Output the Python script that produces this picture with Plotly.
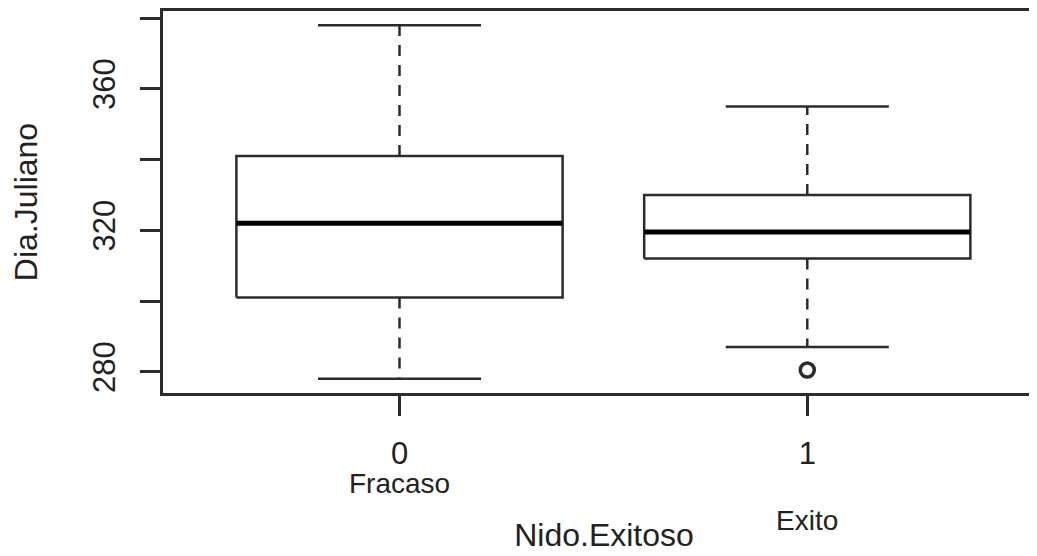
import plotly.graph_objects as go

# ---- data ----
groups = ["0", "1"]
group_labels = ["Fracaso", "Exito"]
positions = [1, 2]
lower_whisker = [278, 287]
q1 = [301, 312]
median = [322, 319.5]
q3 = [341, 330]
upper_whisker = [378, 355]
outlier_group = [2]
outlier_value = [280.5]
y_tickvals = [280, 300, 320, 340, 360, 380]
y_ticktext = ["280", "", "320", "", "360", ""]

# ---- style ----
BOX_HALF = 0.4
CAP_HALF = 0.2
INK = "#2b2b2b"
FONT = "Liberation Sans, Arial, sans-serif"
label_yshift = [-90, -127]

box_x, box_y = [], []
med_x, med_y = [], []
wh_x, wh_y = [], []
cap_x, cap_y = [], []
for p, a, b, m, c, d in zip(positions, lower_whisker, q1, median, q3, upper_whisker):
    box_x += [p - BOX_HALF, p + BOX_HALF, p + BOX_HALF, p - BOX_HALF, p - BOX_HALF, None]
    box_y += [b, b, c, c, b, None]
    med_x += [p - BOX_HALF, p + BOX_HALF, None]
    med_y += [m, m, None]
    wh_x += [p, p, None, p, p, None]
    wh_y += [c, d, None, b, a, None]
    cap_x += [p - CAP_HALF, p + CAP_HALF, None, p - CAP_HALF, p + CAP_HALF, None]
    cap_y += [d, d, None, a, a, None]

fig = go.Figure()
fig.add_trace(go.Scatter(x=wh_x, y=wh_y, mode="lines",
                         line=dict(color=INK, width=2.5, dash="11px,9px"), hoverinfo="skip"))
fig.add_trace(go.Scatter(x=cap_x, y=cap_y, mode="lines",
                         line=dict(color=INK, width=2.5), hoverinfo="skip"))
fig.add_trace(go.Scatter(x=box_x, y=box_y, mode="lines", fill="toself", fillcolor="white",
                         line=dict(color=INK, width=2.5), hoverinfo="skip"))
fig.add_trace(go.Scatter(x=med_x, y=med_y, mode="lines",
                         line=dict(color="black", width=5), hoverinfo="skip"))
fig.add_trace(go.Scatter(x=outlier_group, y=outlier_value, mode="markers",
                         marker=dict(symbol="circle-open", size=14, color=INK,
                                     line=dict(width=3.5, color=INK))))

for p, lab, ys in zip(positions, group_labels, label_yshift):
    fig.add_annotation(x=p, xref="x", y=0, yref="paper", yanchor="middle",
                       yshift=ys, text=lab, showarrow=False,
                       font=dict(family=FONT, size=28, color="#222"))

fig.update_layout(
    width=1037, height=556,
    margin=dict(l=155, r=0, t=3, b=171),
    plot_bgcolor="white", paper_bgcolor="white",
    showlegend=False,
    font=dict(family=FONT, color="#222"),
    xaxis=dict(range=[0.42, 2.583], tickvals=positions, ticktext=groups,
               ticks="outside", ticklen=20, tickwidth=2.5, tickcolor=INK,
               showline=True, linecolor=INK, linewidth=2.5, mirror=True,
               showgrid=False, zeroline=False, ticklabelstandoff=11,
               automargin=False,
               tickfont=dict(size=31),
               title=dict(text="Nido.Exitoso", font=dict(size=32), standoff=54)),
    yaxis=dict(range=[274, 382], tickvals=y_tickvals, ticktext=y_ticktext,
               tickangle=-90,
               ticks="outside", ticklen=20, tickwidth=2.5, tickcolor=INK,
               showline=True, linecolor=INK, linewidth=2.5, mirror=False,
               showgrid=False, zeroline=False, ticklabelstandoff=13,
               automargin=False,
               tickfont=dict(size=31),
               title=dict(text="Dia.Juliano", font=dict(size=32), standoff=42)),
)

fig.write_html("out.html")
